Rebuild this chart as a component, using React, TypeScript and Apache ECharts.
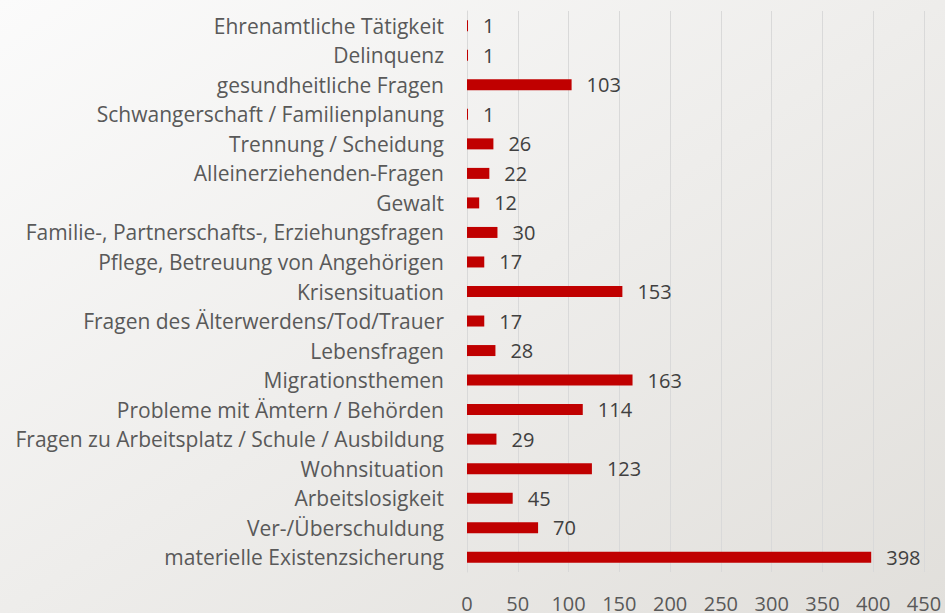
import React, { useEffect, useRef } from "react";
import * as echarts from "echarts";

const categories = [
  "materielle Existenzsicherung",
  "Ver-/Überschuldung",
  "Arbeitslosigkeit",
  "Wohnsituation",
  "Fragen zu Arbeitsplatz / Schule / Ausbildung",
  "Probleme mit Ämtern / Behörden",
  "Migrationsthemen",
  "Lebensfragen",
  "Fragen des Älterwerdens/Tod/Trauer",
  "Krisensituation",
  "Pflege, Betreuung von Angehörigen",
  "Familie-, Partnerschafts-, Erziehungsfragen",
  "Gewalt",
  "Alleinerziehenden-Fragen",
  "Trennung / Scheidung",
  "Schwangerschaft / Familienplanung",
  "gesundheitliche Fragen",
  "Delinquenz",
  "Ehrenamtliche Tätigkeit",
];

const values = [398, 70, 45, 123, 29, 114, 163, 28, 17, 153, 17, 30, 12, 22, 26, 1, 103, 1, 1];

const xMin = 0;
const xMax = 450;
const xInterval = 50;

export default function App() {
  const ref = useRef<HTMLDivElement>(null);
  useEffect(() => {
    if (!ref.current) return;
    const chart = echarts.init(ref.current, undefined, { renderer: "svg" });
    const font = "'Open Sans', 'Noto Sans', sans-serif";
    chart.setOption({
      animation: false,
      backgroundColor: {
        type: "linear",
        x: 0,
        y: 0,
        x2: 1,
        y2: 1,
        colorStops: [
          { offset: 0, color: "#fbfbfb" },
          { offset: 1, color: "#e1dfdb" },
        ],
      },
      grid: { left: 467, right: 21, top: 11, bottom: 39, containLabel: false },
      xAxis: {
        type: "value",
        min: xMin,
        max: xMax,
        interval: xInterval,
        axisLine: { show: false },
        axisTick: { show: false },
        splitLine: { show: true, lineStyle: { color: "#d9d9d9", width: 1 } },
        axisLabel: { color: "#595959", fontSize: 20, fontFamily: font, margin: 21 },
      },
      yAxis: {
        type: "category",
        data: categories,
        axisLine: { show: true, lineStyle: { color: "#d9d9d9", width: 1 } },
        axisTick: { show: false },
        axisLabel: { color: "#595959", fontSize: 21, fontFamily: font, margin: 23 },
      },
      series: [
        {
          type: "bar",
          data: values,
          barWidth: 11,
          itemStyle: { color: "#c00000" },
          label: {
            show: true,
            position: "right",
            distance: 15,
            color: "#404040",
            fontSize: 20,
            fontFamily: font,
          },
        },
      ],
    });
    return () => chart.dispose();
  }, []);
  return (
    <div
      ref={ref}
      style={{ position: "fixed", left: 0, top: 0, width: 945, height: 613 }}
    />
  );
}
